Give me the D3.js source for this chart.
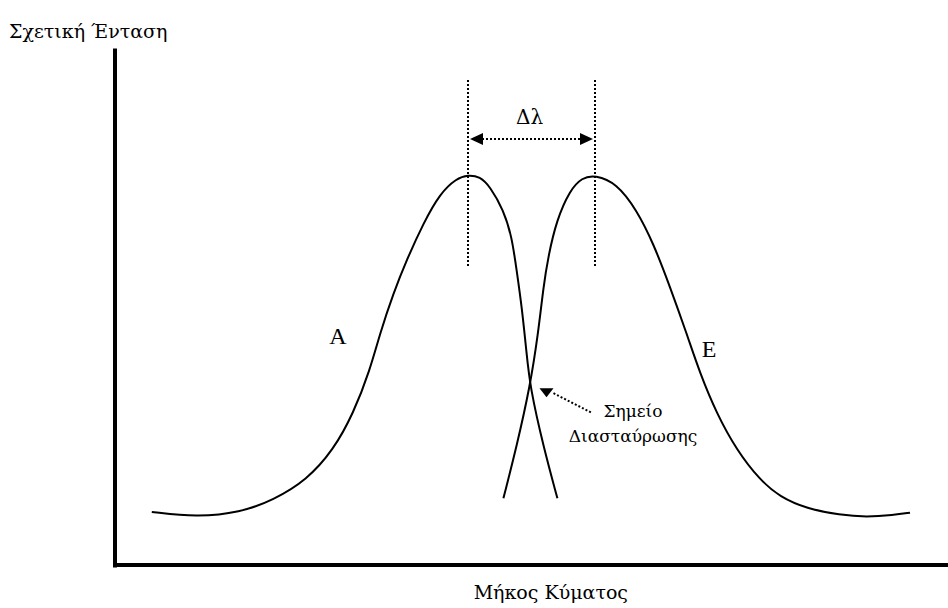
<!DOCTYPE html>
<html>
<head>
<meta charset="utf-8">
<script src="https://cdn.jsdelivr.net/npm/d3@7"></script>
<style>
  html, body { margin: 0; padding: 0; background: #fff; }
  svg { display: block; }
  text { fill: #000; font-family: "DejaVu Serif", "Liberation Serif", serif; }
  text.latin { font-family: "Liberation Serif", "DejaVu Serif", serif; }
</style>
</head>
<body>
<script>
// Absorption (A) and emission (E) bands: wavelength (arbitrary units), relative intensity
const absorptionWavelength = [9.2, 20.4, 31.25, 39.6, 47.9, 54.6, 59.6, 63.75, 66.25, 69.6, 72.9, 77.1, 81.25, 85.4, 88.25, 91.25, 93.75, 97.1, 99.2, 100.4, 101.7, 102.9, 103.75, 107.1, 110.6];
const absorptionIntensity  = [0.015, 0.0, 0.013, 0.050, 0.108, 0.196, 0.303, 0.430, 0.537, 0.654, 0.751, 0.859, 0.946, 0.990, 1.0, 0.995, 0.966, 0.898, 0.820, 0.722, 0.615, 0.479, 0.381, 0.206, 0.055];

const emissionWavelength = [97.1, 100.4, 103.75, 105.8, 107.1, 108.3, 110.4, 113.75, 116.75, 120, 125.4, 130.4, 134.6, 138.75, 142.9, 146.25, 150.4, 155.4, 161.25, 166.25, 172.9, 181.25, 187.9, 194.6, 198.75];
const emissionIntensity  = [0.055, 0.206, 0.381, 0.537, 0.673, 0.761, 0.868, 0.956, 0.992, 1.0, 0.976, 0.898, 0.800, 0.673, 0.537, 0.420, 0.303, 0.196, 0.108, 0.059, 0.025, 0.006, 0.0, 0.006, 0.013];

// Band maxima and the point where the two bands cross
const peakWavelengths = [88.25, 120];
const crossingPoint = [103.75, 0.381];

const labels = {
  yAxis: "Σχετική Ένταση",
  xAxis: "Μήκος Κύματος",
  shift: "Δλ",
  absorption: "A",
  emission: "E",
  crossing: ["Σημείο", "Διασταύρωσης"]
};

const W = 948, H = 608;
const svg = d3.select("body").append("svg").attr("width", W).attr("height", H);

const x = d3.scaleLinear().domain([0, 208]).range([115, 947]);
const y = d3.scaleLinear().domain([-0.14, 1.365]).range([565, 50]);

// Axes: plain thick lines, no ticks
const xAxis = d3.axisBottom(x).ticks(0).tickSizeOuter(0);
const yAxis = d3.axisLeft(y).ticks(0).tickSizeOuter(0);
const gx = svg.append("g").attr("transform", `translate(0,${y(-0.14) - 0.5})`).call(xAxis);
const gy = svg.append("g").attr("transform", `translate(${x(0) - 0.5},0)`).call(yAxis);
[gx, gy].forEach(g => g.select(".domain")
  .attr("stroke", "#000").attr("stroke-width", 4).attr("stroke-linecap", "square"));

// Bands
const line = d3.line()
  .x(d => x(d[0])).y(d => y(d[1]))
  .curve(d3.curveBasis);

const absorption = d3.zip(absorptionWavelength, absorptionIntensity);
const emission = d3.zip(emissionWavelength, emissionIntensity);

svg.append("path").datum(absorption).attr("d", line)
  .attr("fill", "none").attr("stroke", "#000").attr("stroke-width", 2);
svg.append("path").datum(emission).attr("d", line)
  .attr("fill", "none").attr("stroke", "#000").attr("stroke-width", 2);

// Dotted markers at the band maxima
const dotted = "2,2";
svg.selectAll("line.peak").data(peakWavelengths).join("line")
  .attr("class", "peak")
  .attr("x1", d => x(d)).attr("x2", d => x(d))
  .attr("y1", 80).attr("y2", 268)
  .attr("stroke", "#000").attr("stroke-width", 2)
  .attr("stroke-dasharray", dotted);

// Double-headed Stokes shift arrow
const ay = 139;
const xa = x(peakWavelengths[0]) + 2, xb = x(peakWavelengths[1]) - 2;
svg.append("line")
  .attr("x1", xa + 12).attr("x2", xb - 12).attr("y1", ay).attr("y2", ay)
  .attr("stroke", "#000").attr("stroke-width", 2).attr("stroke-dasharray", dotted);
svg.append("path")
  .attr("d", `M${xa},${ay}L${xa + 13},${ay - 6}L${xa + 13},${ay + 6}Z`).attr("fill", "#000");
svg.append("path")
  .attr("d", `M${xb},${ay}L${xb - 13},${ay - 6}L${xb - 13},${ay + 6}Z`).attr("fill", "#000");

svg.append("text")
  .attr("x", (x(peakWavelengths[0]) + x(peakWavelengths[1])) / 2 - 2)
  .attr("y", 124).attr("text-anchor", "middle")
  .attr("font-size", 20).text(labels.shift);

// Arrow pointing at the crossing point
const cx = x(crossingPoint[0]), cy = y(crossingPoint[1]);
const tipX = cx + 16.5, tipY = cy + 10.5;
svg.append("line")
  .attr("x1", tipX + 7).attr("y1", tipY - 4)
  .attr("x2", tipX + 46).attr("y2", tipY + 16)
  .attr("stroke", "#000").attr("stroke-width", 2).attr("stroke-dasharray", dotted);
svg.append("path")
  .attr("d", `M${tipX},${tipY}L${tipX - 7},${tipY - 9}L${tipX + 7},${tipY - 9}Z`)
  .attr("fill", "#000");

const crossText = svg.append("text")
  .attr("text-anchor", "middle").attr("font-size", 17);
crossText.selectAll("tspan").data(labels.crossing).join("tspan")
  .attr("x", 633).attr("y", (d, i) => 417 + i * 25).text(d => d);

// Band labels
svg.append("text").attr("class", "latin")
  .attr("x", 338).attr("y", 344).attr("text-anchor", "middle")
  .attr("font-size", 24).text(labels.absorption);
svg.append("text").attr("class", "latin")
  .attr("x", 709).attr("y", 357).attr("text-anchor", "middle")
  .attr("font-size", 24).text(labels.emission);

// Axis titles
svg.append("text").attr("x", 9).attr("y", 38)
  .attr("font-size", 19).text(labels.yAxis);
svg.append("text").attr("x", 628).attr("y", 599).attr("text-anchor", "end")
  .attr("font-size", 19).text(labels.xAxis);
</script>
</body>
</html>
